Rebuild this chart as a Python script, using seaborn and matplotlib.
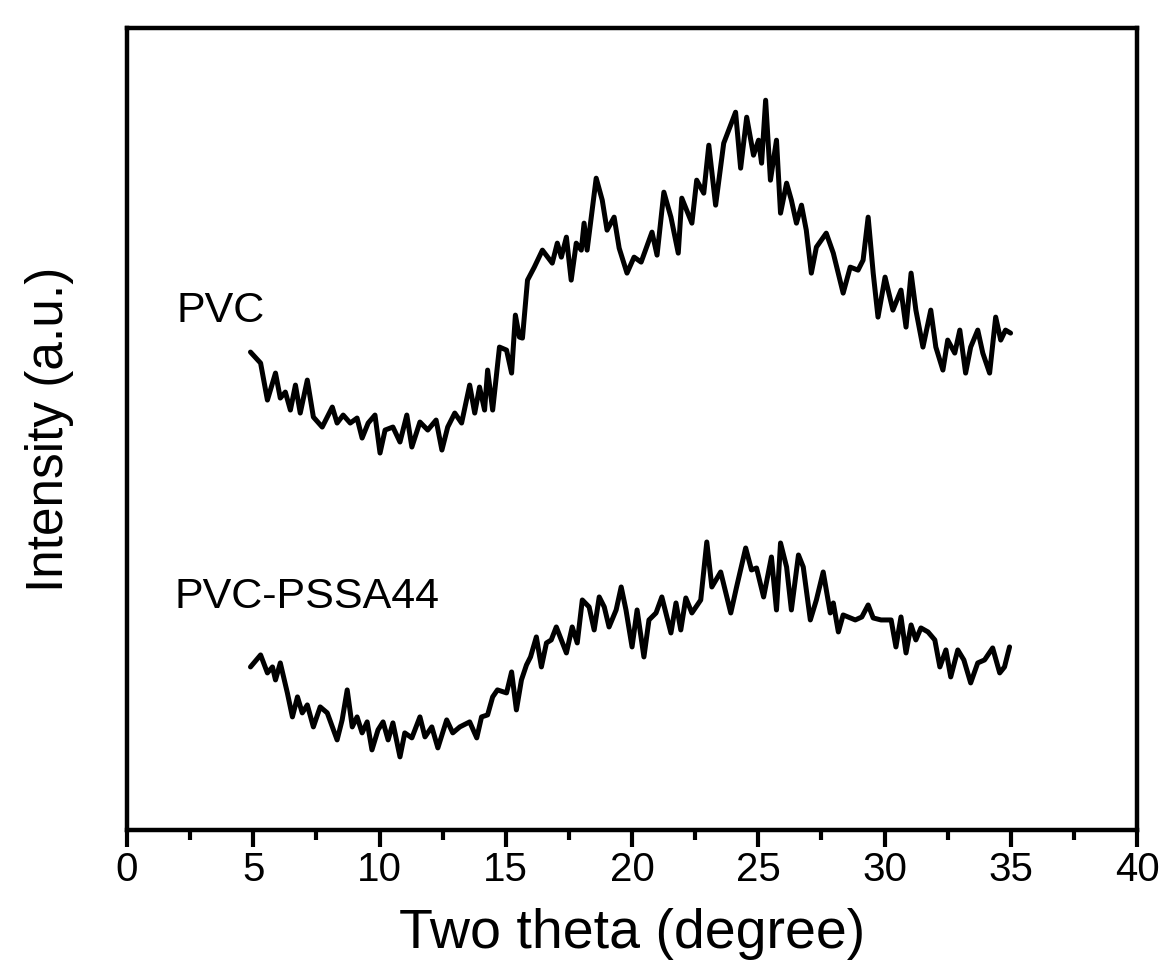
import matplotlib
matplotlib.use("Agg")
import matplotlib.pyplot as plt
from matplotlib.ticker import MultipleLocator
import seaborn as sns
import pandas as pd

# ---- data (intensity in arbitrary units) ----
pvc_x = [4.89, 5.29, 5.56, 5.88, 6.07, 6.27, 6.47, 6.67, 6.86, 7.14, 7.38, 7.73, 8.13, 8.32,
         8.56, 8.84, 9.11, 9.31, 9.55, 9.82, 10.02, 10.22, 10.53, 10.81, 11.08, 11.28, 11.6,
         11.91, 12.24, 12.47, 12.7, 12.98, 13.25, 13.57, 13.77, 13.96, 14.16, 14.28, 14.48,
         14.75, 15.03, 15.23, 15.38, 15.54, 15.66, 15.86, 16.13, 16.45, 16.84, 17.04, 17.2,
         17.4, 17.59, 17.79, 17.99, 18.1, 18.22, 18.58, 18.82, 19.01, 19.29, 19.49, 19.8,
         20.08, 20.36, 20.79, 20.99, 21.26, 21.54, 21.83, 21.97, 22.37, 22.56, 22.84, 23.04,
         23.31, 23.63, 24.1, 24.3, 24.54, 24.81, 25.01, 25.13, 25.29, 25.48, 25.72, 25.88,
         26.12, 26.31, 26.51, 26.71, 26.9, 27.1, 27.3, 27.69, 27.97, 28.36, 28.64, 28.95,
         29.15, 29.35, 29.55, 29.74, 30.02, 30.33, 30.65, 30.85, 31.05, 31.24, 31.52, 31.83,
         32.03, 32.31, 32.5, 32.78, 32.98, 33.21, 33.41, 33.69, 33.89, 34.16, 34.4, 34.6,
         34.79, 34.99]
pvc_y = [478, 467, 430, 457, 432, 438, 420, 445, 417, 450, 413, 403, 423, 407,
         415, 407, 412, 392, 407, 415, 377, 400, 403, 388, 415, 383, 408,
         400, 410, 380, 403, 417, 407, 445, 417, 443, 420, 460, 420,
         483, 480, 457, 515, 493, 492, 550, 563, 580, 567, 587, 573,
         593, 550, 587, 580, 607, 580, 652, 630, 600, 613, 582, 557,
         573, 568, 598, 575, 638, 613, 577, 632, 607, 650, 637, 685,
         625, 687, 718, 662, 713, 675, 690, 667, 730, 650, 690, 617,
         647, 630, 607, 625, 600, 557, 583, 597, 577, 537, 563, 560,
         570, 613, 557, 513, 553, 520, 540, 503, 557, 520, 483, 520,
         483, 460, 490, 477, 500, 457, 483, 500, 477, 457, 513, 490,
         500, 497]

pssa_x = [4.89, 5.29, 5.56, 5.76, 5.88, 6.07, 6.35, 6.55, 6.75, 6.94, 7.14, 7.38, 7.65, 7.93,
          8.32, 8.52, 8.72, 8.92, 9.11, 9.31, 9.51, 9.7, 9.94, 10.14, 10.34, 10.53, 10.81,
          11.0, 11.28, 11.6, 11.8, 12.07, 12.31, 12.66, 12.9, 13.18, 13.57, 13.85, 14.04,
          14.28, 14.48, 14.67, 15.03, 15.23, 15.42, 15.62, 15.82, 15.98, 16.21, 16.41, 16.61,
          16.8, 17.0, 17.2, 17.4, 17.63, 17.83, 18.03, 18.3, 18.5, 18.7, 18.9, 19.09, 19.37,
          19.57, 19.76, 20.0, 20.2, 20.47, 20.67, 20.95, 21.18, 21.54, 21.74, 21.93, 22.13,
          22.37, 22.72, 22.96, 23.16, 23.51, 23.91, 24.14, 24.5, 24.73, 24.93, 25.21, 25.52,
          25.72, 25.88, 26.12, 26.31, 26.59, 26.78, 27.06, 27.3, 27.57, 27.85, 27.97, 28.17,
          28.36, 28.84, 29.1, 29.35, 29.55, 29.86, 30.26, 30.45, 30.65, 30.85, 31.05, 31.24,
          31.44, 31.72, 31.99, 32.19, 32.43, 32.62, 32.9, 33.14, 33.41, 33.69, 33.96, 34.28,
          34.56, 34.75, 34.95]
pssa_y = [163, 175, 157, 163, 150, 167, 137, 113, 133, 117, 125, 103, 123, 117,
          90, 110, 140, 103, 113, 97, 108, 80, 100, 108, 90, 107, 73,
          97, 92, 113, 93, 103, 82, 110, 97, 103, 108, 92, 113,
          115, 133, 140, 137, 158, 120, 150, 165, 173, 193, 163, 187,
          190, 203, 190, 177, 203, 187, 230, 223, 200, 233, 223, 203, 220,
          243, 220, 183, 220, 173, 210, 217, 233, 197, 227, 200, 232,
          217, 230, 288, 243, 258, 217, 243, 282, 260, 262, 233, 273,
          220, 287, 263, 220, 275, 263, 210, 230, 258, 217, 227, 198,
          215, 210, 213, 225, 212, 210, 210, 183, 213, 177, 205, 190,
          202, 198, 190, 163, 180, 153, 180, 170, 147, 167, 170, 182,
          157, 163, 183]

series_names = ["PVC", "PVC-PSSA44"]
x_ticks = [0, 5, 10, 15, 20, 25, 30, 35, 40]

df = pd.concat([
    pd.DataFrame({"theta": pvc_x, "intensity": pvc_y, "sample": series_names[0]}),
    pd.DataFrame({"theta": pssa_x, "intensity": pssa_y, "sample": series_names[1]}),
])

sns.set_style("ticks")
plt.rcParams["font.family"] = ["Liberation Sans", "DejaVu Sans"]
plt.rcParams["text.color"] = "black"
plt.rcParams["axes.labelcolor"] = "black"
plt.rcParams["xtick.color"] = "black"
plt.rcParams["ytick.color"] = "black"

fig = plt.figure(figsize=(11.61, 9.74), dpi=100)
ax = fig.add_axes([0.1094, 0.148, 0.870, 0.823])

sns.lineplot(data=df, x="theta", y="intensity", units="sample", estimator=None,
             sort=False, color="black", linewidth=3.6, ax=ax, legend=False)

ax.set_xlim(0, 40)
ax.set_ylim(0, 802)
ax.set_xticks(x_ticks)
ax.set_xticklabels([str(t) for t in x_ticks])
ax.xaxis.set_minor_locator(MultipleLocator(2.5))
ax.set_yticks([])

for s in ax.spines.values():
    s.set_visible(True)
    s.set_linewidth(3.2)
    s.set_color("black")

ax.tick_params(axis="x", which="major", direction="out", length=12, width=3,
               labelsize=29, pad=3, colors="black", top=False)
ax.tick_params(axis="x", which="minor", direction="out", length=7, width=3, top=False)
ax.tick_params(axis="y", left=False, right=False, labelleft=False)

ax.set_xlabel("Two theta (degree)", fontsize=40, labelpad=14, color="black")
ax.set_ylabel("Intensity (a.u.)", fontsize=37, labelpad=38, color="black")

ax.text(1.97, 508, series_names[0], fontsize=31, va="baseline", ha="left", color="black")
ax.text(1.9, 222, series_names[1], fontsize=31, va="baseline", ha="left", color="black")

fig.savefig("out.png", dpi=100, facecolor="white")
